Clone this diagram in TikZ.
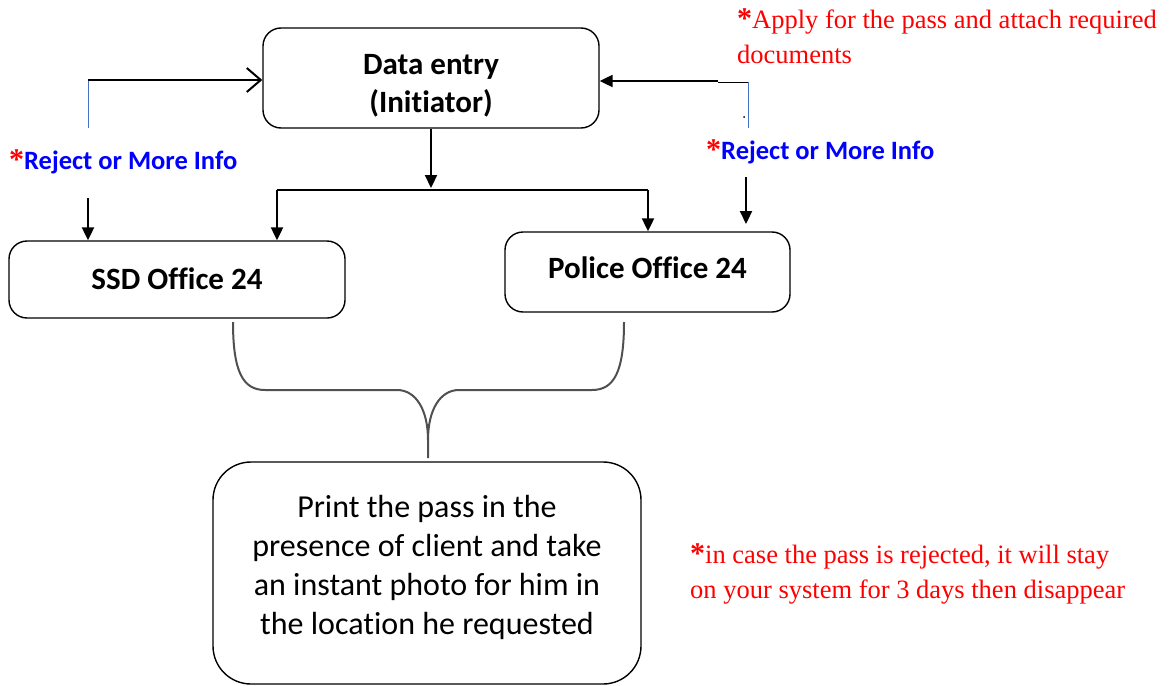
\documentclass[tikz,border=0pt]{standalone}
\usepackage{fontspec}
\setmainfont{Carlito}[Ligatures={NoCommon}]
\newfontfamily\tnr{Liberation Serif}
\usetikzlibrary{arrows.meta}
\definecolor{rejblue}{RGB}{0,0,255}
\definecolor{notered}{RGB}{255,0,0}
\definecolor{linkblue}{RGB}{68,114,196}
\definecolor{bracegray}{RGB}{80,80,80}
\newcommand{\redstar}{{\tnr\fontsize{30}{30}\selectfont\bfseries\color{notered}*}}
\begin{document}
\begin{tikzpicture}[x=1pt,y=-1pt,
  box/.style={draw, line width=1.4pt, rounded corners=18pt, align=center, inner sep=0pt},
  boxtext/.style={font=\fontsize{31}{38}\selectfont\bfseries},
  flow/.style={line width=2.2pt, -{Triangle[length=13pt,width=12pt]}},
  openflow/.style={line width=2.2pt, -{Straight Barb[length=14pt,width=24pt,line width=2pt]}},
  bluelink/.style={linkblue, line width=1pt},
  thinlink/.style={black, line width=1pt},
  rejlabel/.style={anchor=west, inner sep=0pt, font=\fontsize{26.5}{30}\selectfont\bfseries, text=rejblue},
  rednote/.style={anchor=north west, inner sep=0pt, align=left, text=notered, font=\tnr\fontsize{26.5}{35}\selectfont},
  brace/.style={bracegray, line width=2pt}
]
\useasboundingbox (0,0) rectangle (1169,685);

% boxes
\node[box, minimum width=336pt, minimum height=100pt,
      label={[boxtext, align=center, yshift=-8pt]center:Data entry\\(Initiator)}] (de) at (431,78) {};
\node[box, boxtext, minimum width=336pt, minimum height=77pt] (ssd) at (177,279.5) {\raisebox{2pt}{SSD Office 24}};
\node[box, boxtext, minimum width=285pt, minimum height=80pt] (pol) at (647.5,272) {\raisebox{8pt}{Police Office 24}};
\node[box, rounded corners=38pt, minimum width=428pt, minimum height=222pt,
      label={[align=center, font=\fontsize{32}{39}\selectfont, yshift=6pt]center:Print the pass in the\\presence of client and take\\an instant photo for him in\\the location he requested}] (print) at (427,573) {};

% left return loop
\coordinate (l1) at (88,128);
\coordinate (l2) at (88,80);
\draw[bluelink] (l1) -- (l2);
\draw[openflow] (l2) -- (de.west |- l2);

% right return loop
\coordinate (r1) at (748,128);
\coordinate (r2) at (748,82);
\coordinate (r3) at (718,82);
\coordinate (r4) at (718,81);
\draw[bluelink] (r1) -- (r2);
\draw[thinlink] (r2) -- (r3);
\draw[flow] (r4) -- (de.east |- r4);
\fill (744,117) circle (1pt);

% main down flow
\coordinate (split) at (431,188);
\coordinate (sl) at (277,190);
\coordinate (sr) at (648,190);
\draw[flow] (de.south -| split) -- (split);
\draw[line width=1.4pt] (sl) -- (sr);
\draw[flow] (sl) -- (ssd.north -| sl);
\draw[flow] (sr) -- (pol.north -| sr);

% reject arrows
\coordinate (la) at (88,198);
\draw[flow] (la) -- (ssd.north -| la);
\coordinate (ra) at (746,177);
\coordinate (rb) at (746,224);
\draw[flow] (ra) -- (rb);

% labels
\node[rejlabel] (lrej) at (9,162) {\redstar Reject or More Info};
\node[rejlabel] (rrej) at (706,152) {\redstar Reject or More Info};
\node[rednote] (apply) at (737,9) {\redstar Apply for the pass and attach required\\documents};
\node[rednote] (case) at (690,544) {\redstar in case the pass is rejected, it will stay\\on your system for 3 days then disappear};

% brace
\coordinate (bl) at (233,322);
\coordinate (br) at (624,322);
\coordinate (bt) at (428,458);
\draw[brace] (bl) .. controls (233,372) and (243,390) .. (265,390) -- (397,390)
  .. controls (416,390) and (428,410) .. (428,440) -- (bt);
\draw[brace] (br) .. controls (624,372) and (614,390) .. (592,390) -- (459,390)
  .. controls (440,390) and (428,410) .. (428,440);
\end{tikzpicture}
\end{document}
